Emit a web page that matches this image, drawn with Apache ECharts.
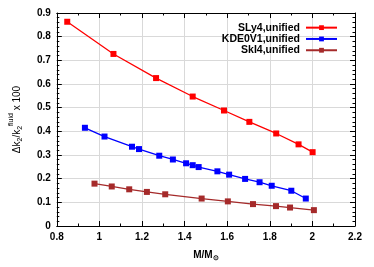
<!DOCTYPE html>
<html><head><meta charset="utf-8">
<script src="https://cdn.jsdelivr.net/npm/echarts@6/dist/echarts.min.js"></script>
<style>html,body{margin:0;padding:0;background:#fff}#c{width:374px;height:267px}</style>
</head><body><div id="c"></div>
<script>
const seriesNames = ['SLy4,unified', 'KDE0V1,unified', 'SkI4,unified'];
const sly4X = [0.849, 1.066, 1.266, 1.438, 1.585, 1.704, 1.830, 1.935, 2.001];
const sly4Y = [0.863, 0.727, 0.625, 0.547, 0.488, 0.440, 0.391, 0.345, 0.312];
const kdeX = [0.932, 1.024, 1.153, 1.186, 1.281, 1.345, 1.407, 1.438, 1.466, 1.554, 1.609, 1.684, 1.752, 1.809, 1.901, 1.969];
const kdeY = [0.415, 0.378, 0.335, 0.325, 0.297, 0.281, 0.265, 0.257, 0.249, 0.231, 0.217, 0.199, 0.185, 0.170, 0.149, 0.116];
const ski4X = [0.977, 1.058, 1.140, 1.223, 1.309, 1.480, 1.603, 1.721, 1.829, 1.895, 2.007];
const ski4Y = [0.179, 0.167, 0.155, 0.144, 0.134, 0.116, 0.104, 0.0925, 0.084, 0.078, 0.067];
const xTicks = [0.8, 1, 1.2, 1.4, 1.6, 1.8, 2, 2.2];
const yTicks = [0, 0.1, 0.2, 0.3, 0.4, 0.5, 0.6, 0.7, 0.8, 0.9];
const colors = ['#ff0000', '#0000ff', '#a52a2a'];

const zip = (xs, ys) => xs.map((x, i) => [x, ys[i]]);
const font = 'Liberation Sans, Arial, Helvetica, sans-serif';
const lbl = {color: '#000', fontFamily: font, fontWeight: 'bold', fontSize: 10};

const chart = echarts.init(document.getElementById('c'), null, {renderer: 'canvas'});
const baseAxis = {
  axisLine: {show: true, onZero: false, lineStyle: {color: '#000', width: 1}},
  axisTick: {show: true, inside: true, length: 5, lineStyle: {color: '#000'}},
  minorTick: {show: true, length: 2.5, lineStyle: {color: '#000'}},
};
chart.setOption({
  animation: false,
  grid: {left: 51, right: 19, top: 13, bottom: 37},
  legend: {
    data: seriesNames, orient: 'vertical', align: 'right',
    right: 31, top: 17, itemWidth: 31, itemHeight: 6, itemGap: 0,
    textStyle: {color: '#000', fontFamily: font, fontWeight: 'bold', fontSize: 10.5, lineHeight: 11.3, padding: [0, 1, 0, 0]}
  },
  xAxis: [
    Object.assign({}, baseAxis, {
      type: 'value', min: xTicks[0], max: xTicks[xTicks.length - 1], interval: 0.2,
      minorTick: {show: true, splitNumber: 2, length: 2.5, lineStyle: {color: '#000'}},
      axisLabel: Object.assign({}, lbl, {margin: 6, formatter: v => String(+v.toFixed(1))}),
      splitLine: {show: true, lineStyle: {color: '#d9d9d9', width: 1}},
      name: '{m|M/M}{s|\u2299}', nameLocation: 'middle', nameGap: 22,
      nameTextStyle: {rich: {m: Object.assign({}, lbl, {lineHeight: 14, verticalAlign: 'middle'}), s: Object.assign({}, lbl, {fontSize: 7, verticalAlign: 'bottom', lineHeight: 14})}}
    }),
    Object.assign({}, baseAxis, {
      type: 'value', position: 'top', min: xTicks[0], max: xTicks[xTicks.length - 1], interval: 0.2,
      minorTick: {show: true, splitNumber: 2, length: 2.5, lineStyle: {color: '#000'}},
      axisLabel: {show: false}, splitLine: {show: false}
    })
  ],
  yAxis: [
    Object.assign({}, baseAxis, {
      type: 'value', min: yTicks[0], max: yTicks[yTicks.length - 1], interval: 0.1,
      minorTick: {show: true, splitNumber: 5, length: 2.5, lineStyle: {color: '#000'}},
      axisLabel: Object.assign({}, lbl, {margin: 6, formatter: v => String(+v.toFixed(1))}),
      splitLine: {show: true, lineStyle: {color: '#d9d9d9', width: 1}},
      name: '{m|\u0394k}{s|2}{m|/k}{s|2}{p|fluid}{m| x 100}', nameLocation: 'middle', nameGap: 23, nameRotate: 90,
      nameTextStyle: {rich: {
        m: {color: '#000', fontFamily: font, fontSize: 10, lineHeight: 18, verticalAlign: 'middle'},
        s: {color: '#000', fontFamily: font, fontSize: 7, lineHeight: 18, verticalAlign: 'bottom', padding: [0, 0, 2, 0]},
        p: {color: '#000', fontFamily: font, fontSize: 7, lineHeight: 18, verticalAlign: 'top', padding: [0, 0, 0, 0]}
      }}
    }),
    Object.assign({}, baseAxis, {
      type: 'value', position: 'right', min: yTicks[0], max: yTicks[yTicks.length - 1], interval: 0.1,
      minorTick: {show: true, splitNumber: 5, length: 2.5, lineStyle: {color: '#000'}},
      axisLabel: {show: false}, splitLine: {show: false}
    })
  ],
  series: [
    {name: seriesNames[0], data: zip(sly4X, sly4Y)},
    {name: seriesNames[1], data: zip(kdeX, kdeY)},
    {name: seriesNames[2], data: zip(ski4X, ski4Y)}
  ].map((s, i) => Object.assign(s, {
    type: 'line', xAxisIndex: 0, yAxisIndex: 0, color: colors[i],
    symbol: 'rect', symbolSize: 6, showSymbol: true,
    lineStyle: {color: colors[i], width: 1.3}, itemStyle: {color: colors[i]}
  }))
});
</script></body></html>
